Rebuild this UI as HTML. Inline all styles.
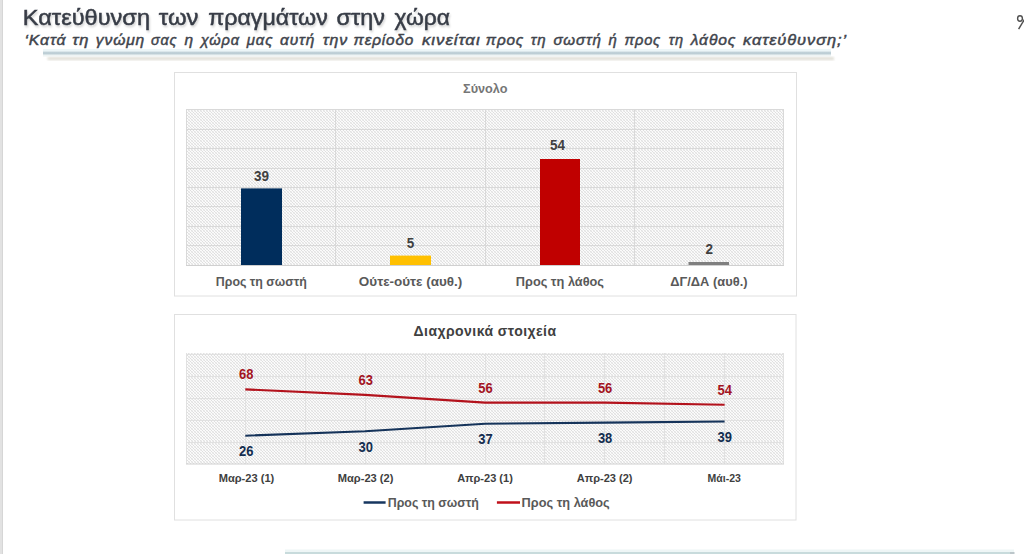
<!DOCTYPE html>
<html><head><meta charset="utf-8">
<style>
html,body{margin:0;padding:0;background:#fff;width:1024px;height:554px;overflow:hidden}
svg{display:block;font-family:"Liberation Sans",sans-serif}
</style></head>
<body>
<svg width="1024" height="554" viewBox="0 0 1024 554">
<defs>
<pattern id="hatch" x="0" y="0" width="3" height="3" patternUnits="userSpaceOnUse">
<rect width="3" height="3" fill="#fbfbfb"/>
<rect x="0" y="0" width="1" height="1" fill="#e2e2e2"/>
<rect x="1" y="1" width="1" height="1" fill="#dedede"/>
<rect x="2" y="2" width="1" height="1" fill="#e2e2e2"/>
<rect x="2" y="0" width="1" height="1" fill="#eeeeee"/>
<rect x="0" y="2" width="1" height="1" fill="#eeeeee"/>
</pattern>
<filter id="blur1"><feGaussianBlur stdDeviation="1"/></filter>
<filter id="tsh" x="-5%" y="-20%" width="110%" height="160%">
<feGaussianBlur in="SourceAlpha" stdDeviation="0.8"/>
<feOffset dx="1" dy="1.5" result="b"/>
<feComponentTransfer><feFuncA type="linear" slope="0.18"/></feComponentTransfer>
<feMerge><feMergeNode/><feMergeNode in="SourceGraphic"/></feMerge>
</filter>
<linearGradient id="ul" x1="0" y1="0" x2="0" y2="1">
<stop offset="0" stop-color="#d3e2e7"/>
<stop offset="0.5" stop-color="#b6c8d0"/>
<stop offset="1" stop-color="#d4e2e6"/>
</linearGradient>
</defs>
<rect width="1024" height="554" fill="#fff"/>
<rect x="0" y="0" width="3" height="554" fill="#e2e2e2"/>
<rect x="2" y="0" width="1" height="554" fill="#d6d6d6"/>
<g font-size="22.6" fill="#373c46" stroke="#373c46" stroke-width="0.5" filter="url(#tsh)"><text x="22.80" y="25.0" textLength="127.21" lengthAdjust="spacingAndGlyphs">Κατεύθυνση</text><text x="158.80" y="25.0" textLength="39.62" lengthAdjust="spacingAndGlyphs">των</text><text x="208.20" y="25.0" textLength="119.59" lengthAdjust="spacingAndGlyphs">πραγμάτων</text><text x="336.60" y="25.0" textLength="48.40" lengthAdjust="spacingAndGlyphs">στην</text><text x="394.60" y="25.0" textLength="55.40" lengthAdjust="spacingAndGlyphs">χώρα</text></g>
<g font-size="14.5" font-weight="normal" font-style="italic" fill="#40444c" stroke="#40444c" stroke-width="0.45" letter-spacing="0.8"><text x="24.40" y="45.0" textLength="42.03" lengthAdjust="spacingAndGlyphs">‘Κατά</text><text x="72.20" y="45.0" textLength="17.18" lengthAdjust="spacingAndGlyphs">τη</text><text x="95.80" y="45.0" textLength="49.38" lengthAdjust="spacingAndGlyphs">γνώμη</text><text x="151.00" y="45.0" textLength="26.35" lengthAdjust="spacingAndGlyphs">σας</text><text x="184.60" y="45.0" textLength="9.44" lengthAdjust="spacingAndGlyphs">η</text><text x="200.80" y="45.0" textLength="39.09" lengthAdjust="spacingAndGlyphs">χώρα</text><text x="246.80" y="45.0" textLength="26.43" lengthAdjust="spacingAndGlyphs">μας</text><text x="280.00" y="45.0" textLength="35.18" lengthAdjust="spacingAndGlyphs">αυτή</text><text x="322.80" y="45.0" textLength="25.37" lengthAdjust="spacingAndGlyphs">την</text><text x="353.60" y="45.0" textLength="60.59" lengthAdjust="spacingAndGlyphs">περίοδο</text><text x="422.00" y="45.0" textLength="58.60" lengthAdjust="spacingAndGlyphs">κινείται</text><text x="485.80" y="45.0" textLength="38.30" lengthAdjust="spacingAndGlyphs">προς</text><text x="530.80" y="45.0" textLength="15.65" lengthAdjust="spacingAndGlyphs">τη</text><text x="553.40" y="45.0" textLength="48.40" lengthAdjust="spacingAndGlyphs">σωστή</text><text x="608.60" y="45.0" textLength="9.11" lengthAdjust="spacingAndGlyphs">ή</text><text x="624.40" y="45.0" textLength="36.60" lengthAdjust="spacingAndGlyphs">προς</text><text x="668.80" y="45.0" textLength="15.15" lengthAdjust="spacingAndGlyphs">τη</text><text x="690.80" y="45.0" textLength="45.44" lengthAdjust="spacingAndGlyphs">λάθος</text><text x="743.00" y="45.0" textLength="103.99" lengthAdjust="spacingAndGlyphs">κατεύθυνση;’</text></g>
<rect x="47.5" y="57" width="786.5" height="3.2" fill="#dddbd2" opacity="0.85" filter="url(#blur1)"/>
<rect x="43" y="49" width="788" height="2.5" fill="#ecf6f8"/>
<rect x="43" y="51.3" width="788" height="3.6" fill="url(#ul)"/>
<rect x="43" y="54.9" width="788" height="1.6" fill="#eef4f4"/>
<ellipse cx="1020" cy="18.5" rx="2.4" ry="2.7" fill="none" stroke="#505050" stroke-width="1.4"/>
<line x1="1027.2" y1="14.8" x2="1018.6" y2="29.2" stroke="#505050" stroke-width="1.5"/>

<rect x="174.5" y="72.5" width="622" height="223.5" fill="#fff" stroke="#e0e0e0" stroke-width="1"/>
<text x="485.3" y="92.5" font-size="13" font-weight="bold" fill="#767676" text-anchor="middle" textLength="44.5" lengthAdjust="spacingAndGlyphs">Σύνολο</text>
<rect x="186" y="109" width="598" height="156.5" fill="url(#hatch)"/>
<g stroke="#d9d9d9" stroke-width="1" shape-rendering="crispEdges">
<line x1="186" y1="109.6" x2="784" y2="109.6"/>
<line x1="186" y1="129.1" x2="784" y2="129.1"/>
<line x1="186" y1="148.5" x2="784" y2="148.5"/>
<line x1="186" y1="168.0" x2="784" y2="168.0"/>
<line x1="186" y1="187.5" x2="784" y2="187.5"/>
<line x1="186" y1="206.9" x2="784" y2="206.9"/>
<line x1="186" y1="226.4" x2="784" y2="226.4"/>
<line x1="186" y1="245.9" x2="784" y2="245.9"/>
<line x1="186.5" y1="109" x2="186.5" y2="265.5"/>
<line x1="335.5" y1="109" x2="335.5" y2="265.5"/>
<line x1="485" y1="109" x2="485" y2="265.5"/>
<line x1="634.5" y1="109" x2="634.5" y2="265.5"/>
<line x1="783.5" y1="109" x2="783.5" y2="265.5"/>
</g>
<line x1="186" y1="265.5" x2="784" y2="265.5" stroke="#d0d0d0" stroke-width="1"/>
<rect x="241" y="188.4" width="41" height="76.6" fill="#002d5c"/>
<rect x="390" y="255.6" width="41" height="9.4" fill="#ffc000"/>
<rect x="540" y="159" width="40" height="106" fill="#c00000"/>
<rect x="688.5" y="262" width="40.5" height="3" fill="#7f7f7f"/>
<g font-size="14.5" font-weight="bold" fill="#404040" text-anchor="middle">
<text x="261.4" y="180.9" textLength="15" lengthAdjust="spacingAndGlyphs">39</text>
<text x="410.5" y="247.9" textLength="7.5" lengthAdjust="spacingAndGlyphs">5</text>
<text x="557.4" y="150" textLength="15" lengthAdjust="spacingAndGlyphs">54</text>
<text x="709.2" y="254" textLength="7.5" lengthAdjust="spacingAndGlyphs">2</text>
</g>
<g font-size="13" font-weight="bold" fill="#595959" text-anchor="middle">
<text x="261.3" y="285.9" textLength="91" lengthAdjust="spacingAndGlyphs">Προς τη σωστή</text>
<text x="410.6" y="285.9" textLength="103.5" lengthAdjust="spacingAndGlyphs">Ούτε-ούτε (αυθ.)</text>
<text x="559.9" y="285.9" textLength="88.2" lengthAdjust="spacingAndGlyphs">Προς τη λάθος</text>
<text x="708.9" y="285.9" textLength="77.2" lengthAdjust="spacingAndGlyphs">ΔΓ/ΔΑ (αυθ.)</text>
</g>

<rect x="174.5" y="314.5" width="621.5" height="205.5" fill="#fff" stroke="#e0e0e0" stroke-width="1"/>
<text x="484.8" y="336.3" font-size="14" font-weight="bold" fill="#404040" text-anchor="middle" textLength="142.5" lengthAdjust="spacing">Διαχρονικά στοιχεία</text>
<rect x="186" y="353" width="598" height="111" fill="url(#hatch)"/>
<g stroke="#e1e1e1" stroke-width="1" shape-rendering="crispEdges">
<line x1="186" y1="354.0" x2="784" y2="354.0"/>
<line x1="186" y1="376.0" x2="784" y2="376.0"/>
<line x1="186" y1="398.0" x2="784" y2="398.0"/>
<line x1="186" y1="420.0" x2="784" y2="420.0"/>
<line x1="186" y1="442.0" x2="784" y2="442.0"/>
<line x1="186.5" y1="353" x2="186.5" y2="464"/>
<line x1="245.8" y1="353" x2="245.8" y2="464"/>
<line x1="305.6" y1="353" x2="305.6" y2="464"/>
<line x1="365.4" y1="353" x2="365.4" y2="464"/>
<line x1="425.2" y1="353" x2="425.2" y2="464"/>
<line x1="485.0" y1="353" x2="485.0" y2="464"/>
<line x1="544.8" y1="353" x2="544.8" y2="464"/>
<line x1="604.6" y1="353" x2="604.6" y2="464"/>
<line x1="664.4" y1="353" x2="664.4" y2="464"/>
<line x1="724.2" y1="353" x2="724.2" y2="464"/>
<line x1="783.5" y1="353" x2="783.5" y2="464"/>
</g>
<line x1="186" y1="464" x2="784" y2="464" stroke="#d0d0d0" stroke-width="1"/>
<path d="M245.3,389.4 L365.1,394.9 L485.0,402.6 L604.8,402.6 L724.6,404.8" fill="none" stroke="#b3121c" stroke-width="2.1"/>
<path d="M245.3,435.7 L365.1,431.3 L485.0,423.7 L604.8,422.6 L724.6,421.5" fill="none" stroke="#15335a" stroke-width="2.1"/>
<g font-size="14.5" font-weight="bold" fill="#a3141f" text-anchor="middle"><text x="246.3" y="379.4" textLength="14.4" lengthAdjust="spacingAndGlyphs">68</text><text x="365.8" y="384.9" textLength="14.4" lengthAdjust="spacingAndGlyphs">63</text><text x="485.5" y="392.6" textLength="14.4" lengthAdjust="spacingAndGlyphs">56</text><text x="605.1" y="392.6" textLength="14.4" lengthAdjust="spacingAndGlyphs">56</text><text x="724.7" y="394.8" textLength="14.4" lengthAdjust="spacingAndGlyphs">54</text></g>
<g font-size="14.5" font-weight="bold" fill="#132d4f" text-anchor="middle"><text x="246.3" y="456.0" textLength="14.4" lengthAdjust="spacingAndGlyphs">26</text><text x="365.8" y="451.6" textLength="14.4" lengthAdjust="spacingAndGlyphs">30</text><text x="485.5" y="444.0" textLength="14.4" lengthAdjust="spacingAndGlyphs">37</text><text x="605.1" y="442.9" textLength="14.4" lengthAdjust="spacingAndGlyphs">38</text><text x="724.7" y="441.8" textLength="14.4" lengthAdjust="spacingAndGlyphs">39</text></g>
<g font-size="10.5" font-weight="bold" fill="#404040" text-anchor="middle">
<text x="246.5" y="482.2" textLength="55.6" lengthAdjust="spacingAndGlyphs">Μαρ-23 (1)</text>
<text x="365.6" y="482.2" textLength="55.7" lengthAdjust="spacingAndGlyphs">Μαρ-23 (2)</text>
<text x="485" y="482.2" textLength="55.7" lengthAdjust="spacingAndGlyphs">Απρ-23 (1)</text>
<text x="604.6" y="482.2" textLength="55.7" lengthAdjust="spacingAndGlyphs">Απρ-23 (2)</text>
<text x="724.2" y="482.2">Μάι-23</text>
</g>
<line x1="363.6" y1="502.5" x2="385.6" y2="502.5" stroke="#16365f" stroke-width="2.5"/>
<line x1="496.9" y1="502.5" x2="520" y2="502.5" stroke="#c0101a" stroke-width="2.5"/>
<g font-size="13" font-weight="bold" fill="#595959">
<text x="387.7" y="506.9" textLength="91.2" lengthAdjust="spacingAndGlyphs">Προς τη σωστή</text>
<text x="521.6" y="506.9" textLength="88.1" lengthAdjust="spacingAndGlyphs">Προς τη λάθος</text>
</g>

<rect x="285" y="549.5" width="729" height="2.5" fill="#eef6f6"/>
<rect x="285" y="552" width="729" height="2" fill="#c8dbdc"/>
<rect x="1010" y="552" width="4.5" height="2" fill="#bcc6ca"/>
</svg>
</body></html>
